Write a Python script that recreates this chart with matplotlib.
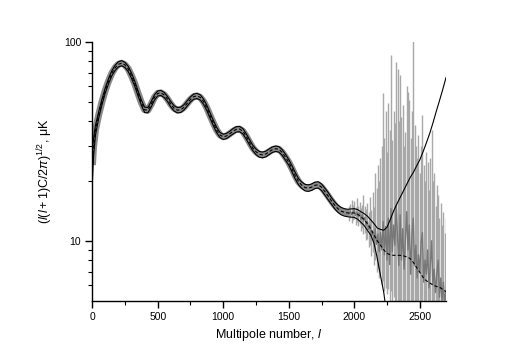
# -*- coding: utf-8 -*-

import numpy as np
from matplotlib import pyplot as plt

plt.rcParams['font.family'] = ['Liberation Sans', 'DejaVu Sans']
plt.rcParams['mathtext.fontset'] = 'custom'
plt.rcParams['mathtext.rm'] = 'Liberation Sans'
plt.rcParams['mathtext.it'] = 'Liberation Sans:italic'

# model spectrum (mean) and its +/- spread, uK
ell = [2, 10] + list(range(25, 2701, 25))
mean = [24, 29.5, 36, 43, 50, 57, 63.5, 69.5, 74, 77, 78, 76.5, 73, 67.5, 61.5, 55,
        49.5, 45.5, 45.3, 48.5, 52.5, 55, 55.3, 54, 51.5, 48.5, 46.3, 45.3, 45.5, 46.8,
        49, 51.3, 53, 53.4, 52.5, 50, 46.5, 42.5, 39, 36, 34, 33.3, 33.6, 34.5, 35.5,
        36.3, 36.4, 35.5, 33.5, 31.3, 29.3, 28, 27.2, 27, 27.3, 28, 28.7, 29, 28.8,
        27.8, 26.3, 24.8, 23, 21.2, 19.8, 19, 18.5, 18.4, 18.6, 19, 19.1, 18.6, 17.7,
        16.8, 15.9, 15.1, 14.5, 14.1, 13.9, 13.8, 13.8, 13.8, 13.6, 13.2, 12.8, 12.2,
        11.5, 10.7, 10.0, 9.5, 9.0, 8.65, 8.5, 8.45, 8.45, 8.45, 8.4, 8.3, 8.15, 7.8,
        7.35, 6.95, 6.55, 6.3, 6.15, 6.0, 5.9, 5.85, 5.7, 5.55]
sig_up = [5, 3, 2, 1.6, 1.6, 1.7, 1.9, 2.0, 2.2, 2.3, 2.3, 2.3, 2.2, 2.0, 1.8, 1.6,
          1.5, 1.4, 1.4, 1.5, 1.6, 1.6, 1.6, 1.6, 1.5, 1.5, 1.4, 1.4, 1.4, 1.4,
          1.5, 1.5, 1.6, 1.6, 1.6, 1.5, 1.4, 1.3, 1.2, 1.1, 1.0, 1.0, 1.0, 1.0, 1.1,
          1.1, 1.1, 1.1, 1.0, 1.0, 0.9, 0.9, 0.9, 0.9, 0.9, 0.9, 0.9, 0.9, 0.9,
          0.9, 0.9, 0.8, 0.8, 0.8, 0.7, 0.7, 0.7, 0.7, 0.7, 0.7, 0.7, 0.7, 0.7,
          0.7, 0.6, 0.6, 0.6, 0.6, 0.6, 0.6, 0.65, 0.7, 0.75, 0.8, 0.9, 1.1,
          1.25, 1.5, 1.6, 1.9, 2.3, 3.05, 4.3, 5.65, 6.85, 8.05, 9.4, 10.9, 12.55, 14.2,
          16.35, 18.55, 21.45, 24.7, 28.35, 33.0, 38.6, 44.65, 51.8, 60.45]
sig_lo = [4, 3, 2, 1.6, 1.6, 1.7, 1.9, 2.0, 2.2, 2.3, 2.3, 2.3, 2.2, 2.0, 1.8, 1.6,
          1.5, 1.4, 1.4, 1.5, 1.6, 1.6, 1.6, 1.6, 1.5, 1.5, 1.4, 1.4, 1.4, 1.4,
          1.5, 1.5, 1.6, 1.6, 1.6, 1.5, 1.4, 1.3, 1.2, 1.1, 1.0, 1.0, 1.0, 1.0, 1.1,
          1.1, 1.1, 1.1, 1.0, 1.0, 0.9, 0.9, 0.9, 0.9, 0.9, 0.9, 0.9, 0.9, 0.9,
          0.9, 0.9, 0.8, 0.8, 0.8, 0.7, 0.7, 0.7, 0.7, 0.7, 0.7, 0.7, 0.7, 0.7,
          0.7, 0.6, 0.6, 0.6, 0.6, 0.6, 0.6, 0.65, 0.7, 0.75, 0.8, 0.85, 0.9,
          0.8, 0.95, 1.8, 2.8, 3.5, 4.5, 4.3, 5.65, 6.85, 8.05, 8.4, 8.3, 8.15, 7.8,
          7.35, 6.95, 6.55, 6.3, 6.15, 6.0, 5.9, 5.85, 5.7, 5.55]

# noisy high-l measurements: value, lower and upper end of error bar
noise_l = list(range(1960, 2701, 10))
noise_val = [13.6, 14.1, 13.5, 13.9, 14.3, 13.4, 13.9, 13.2, 13.8, 12.8, 13.5, 12.6,
             13.1, 12.0, 12.5, 11.4, 12.0, 10.6, 11.2, 9.8, 11.5, 9.6, 10.8, 8.8,
             11.0, 9.0, 12.5, 8.5, 11.8, 8.0, 13.0, 7.6, 14.5, 8.8, 12.0, 9.5, 15.0,
             10.5, 7.5, 13.5, 8.0, 11.5, 7.2, 10.0, 14.0, 9.0, 12.0, 6.8, 10.5, 13.0,
             7.5, 9.5, 6.5, 8.5, 7.0, 9.8, 11.0, 6.2, 8.0, 6.8, 9.0, 5.8, 7.5, 10.0,
             6.0, 7.2, 5.5, 6.8, 8.0, 5.2, 6.5, 5.0, 6.2, 4.8, 5.6]
noise_lo = [12.6, 13.0, 12.3, 12.7, 12.9, 12.0, 12.4, 11.8, 12.2, 11.2, 11.6, 10.8,
            11.0, 10.1, 10.2, 9.3, 9.5, 8.4, 8.8, 7.6, 8.0, 7.0, 7.2, 6.5, 6.8, 6.0,
            6.3, 5.6, 5.8, 5.4, 5.7, 5.0, 5.6, 4.8, 5.2, 4.5, 5.0, 4.2, 4.0, 4.6, 3.8,
            4.3, 3.5, 4.0, 4.4, 3.6, 4.0, 3.2, 3.8, 4.1, 3.3, 3.5, 3.0, 3.4, 3.1, 3.6,
            3.8, 3.0, 3.2, 3.0, 3.3, 2.8, 3.0, 3.5, 2.9, 3.0, 2.7, 2.9, 3.1, 2.6, 2.8,
            2.5, 2.7, 2.5, 2.6]
noise_hi = [14.9, 15.3, 16.0, 15.1, 15.8, 14.7, 16.4, 14.9, 15.6, 14.6, 15.2, 17.0,
            15.0, 14.5, 15.4, 14.0, 16.5, 14.2, 17.5, 14.8, 22.0, 18.5, 24.0, 20.0,
            26.0, 30.0, 55.0, 33.0, 45.0, 28.0, 49.0, 36.0, 86.0, 32.0, 45.0, 39.0,
            79.0, 73.0, 40.0, 68.0, 42.0, 48.0, 30.0, 35.0, 60.0, 56.0, 51.0, 33.0,
            45.0, 105.0, 38.0, 30.0, 26.0, 34.0, 22.0, 30.0, 43.0, 24.0, 20.0, 28.0,
            25.0, 18.0, 26.0, 36.0, 20.0, 22.0, 15.0, 19.0, 17.0, 13.0, 15.5, 12.0,
            14.0, 11.0, 13.0]

ell = np.array(ell)
mean = np.array(mean)
upper = mean + np.array(sig_up)
lower = mean - np.array(sig_lo)

fig = plt.figure(figsize=(5.18, 3.61), dpi=100)
ax = fig.add_axes([0.178, 0.167, 0.683, 0.7175])

low = ell <= 1975
ax.plot(ell[low], mean[low], color='#8a8a8a', lw=5, solid_capstyle='butt', zorder=1)
ax.vlines(noise_l, noise_lo, noise_hi, color='#a8a8a8', lw=1.0, zorder=2)
ax.plot(noise_l, noise_val, color='#787878', lw=1.0, zorder=3)

ax.plot(ell, upper, color='black', lw=0.8, zorder=4)
ax.plot(ell, lower, color='black', lw=0.8, zorder=4)
ax.plot(ell, mean, color='black', lw=0.8, ls=(0, (3, 2)), zorder=5)

ax.set_yscale('log', nonpositive='mask')
ax.set_xlim(0, 2700)
ax.set_ylim(5, 100)
ax.set_xticks([0, 500, 1000, 1500, 2000, 2500])
ax.set_xticks(list(range(250, 2700, 500)), minor=True)
ax.set_yticks([10, 100])
ax.set_yticklabels(['10', '100'])
ax.set_yticks([6, 7, 8, 9, 20, 30, 40, 50, 60, 70, 80, 90], minor=True)
ax.set_yticklabels([], minor=True)

for s in ['top', 'right']:
    ax.spines[s].set_visible(False)
for s in ['left', 'bottom']:
    ax.spines[s].set_linewidth(1.0)
ax.tick_params(which='major', direction='out', length=5, width=1, labelsize=7.5, pad=3)
ax.tick_params(which='minor', direction='out', length=3, width=0.8)

ax.set_xlabel(r'Multipole number, $\mathit{l}$', fontsize=9, labelpad=4)
ax.set_ylabel(r'$(\mathit{l}(\mathit{l}+1)\mathrm{C}/2\pi)^{1/2}$, μK', fontsize=9, labelpad=6)

fig.savefig('out.png', dpi=100)
